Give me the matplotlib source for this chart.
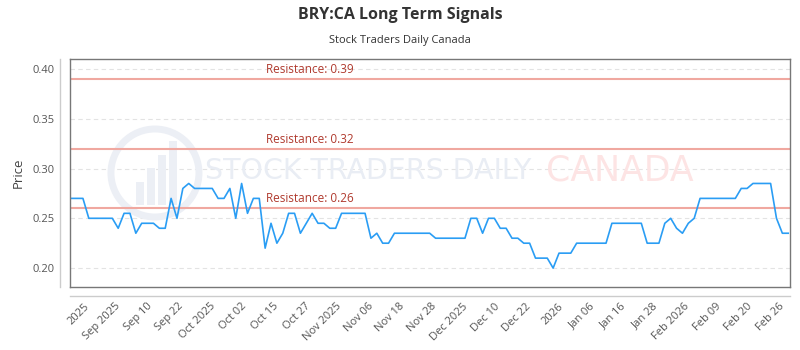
import matplotlib
matplotlib.use("Agg")
import matplotlib.pyplot as plt
from matplotlib.patches import Ellipse, Rectangle
from matplotlib.lines import Line2D

prices = [0.27, 0.27, 0.27, 0.25, 0.25, 0.25, 0.25, 0.25, 0.24, 0.255,
          0.255, 0.235, 0.245, 0.245, 0.245, 0.24, 0.24, 0.27, 0.25, 0.28,
          0.285, 0.28, 0.28, 0.28, 0.28, 0.27, 0.27, 0.28, 0.25, 0.285,
          0.255, 0.27, 0.27, 0.22, 0.245, 0.225, 0.235, 0.255, 0.255, 0.235,
          0.245, 0.255, 0.245, 0.245, 0.24, 0.24, 0.255, 0.255, 0.255, 0.255,
          0.255, 0.23, 0.235, 0.225, 0.225, 0.235, 0.235, 0.235, 0.235, 0.235,
          0.235, 0.235, 0.23, 0.23, 0.23, 0.23, 0.23, 0.23, 0.25, 0.25,
          0.235, 0.25, 0.25, 0.24, 0.24, 0.23, 0.23, 0.225, 0.225, 0.21,
          0.21, 0.21, 0.20, 0.215, 0.215, 0.215, 0.225, 0.225, 0.225, 0.225,
          0.225, 0.225, 0.245, 0.245, 0.245, 0.245, 0.245, 0.245, 0.225, 0.225,
          0.225, 0.245, 0.25, 0.24, 0.235, 0.245, 0.25, 0.27, 0.27, 0.27,
          0.27, 0.27, 0.27, 0.27, 0.28, 0.28, 0.285, 0.285, 0.285, 0.285,
          0.25, 0.235, 0.235]

resistance_levels = [0.39, 0.32, 0.26]

tick_labels = ["2025", "Sep 2025", "Sep 10", "Sep 22", "Oct 2025", "Oct 02",
               "Oct 15", "Oct 27", "Nov 2025", "Nov 06", "Nov 18", "Nov 28",
               "Dec 2025", "Dec 10", "Dec 22", "2026", "Jan 06", "Jan 16",
               "Jan 28", "Feb 2026", "Feb 09", "Feb 20", "Feb 26"]

title = "BRY:CA Long Term Signals"
subtitle = "Stock Traders Daily Canada"

plt.rcParams['font.family'] = ['Open Sans', 'DejaVu Sans']

fig = plt.figure(figsize=(8, 3.5), dpi=100)
ax = fig.add_axes([70/800, 1-287/350, 720/800, 228/350])

n = len(prices)
x = list(range(n))
ax.set_xlim(-0.2, n - 0.7)
ax.set_ylim(0.181, 0.41)

# grid
for v in [0.20, 0.25, 0.30, 0.35, 0.40]:
    ax.axhline(v, color='#e3e3e3', lw=0.8, ls=(0, (4, 3)), zorder=0)

# watermark
ax.text(0.188, 0.51, "STOCK TRADERS DAILY", transform=ax.transAxes,
        fontsize=20.5, color='#e9edf4', ha='left', va='center', zorder=0,
        family='DejaVu Sans')
ax.text(0.661, 0.51, "CANADA", transform=ax.transAxes,
        fontsize=25, color='#fde4e4', ha='left', va='center', zorder=0,
        family='DejaVu Sans')
ax.add_patch(Ellipse((0.118, 0.50), 88/720, 88/228, transform=ax.transAxes,
                     facecolor='none', edgecolor='#eceff5', lw=5, zorder=0))
for bx, bh in [(0.092, 0.10), (0.107, 0.16), (0.122, 0.22), (0.137, 0.28)]:
    ax.add_patch(Rectangle((bx, 0.36), 0.011, bh, transform=ax.transAxes,
                           facecolor='#eceff5', edgecolor='none', zorder=0))

# resistance lines
for r in resistance_levels:
    ax.axhline(r, color='#f0a8a0', lw=1.5, zorder=1)
    ax.text(33.2, r + 0.003, f"Resistance: {r:.2f}", color='#b03a2e',
            fontsize=8.5, ha='left', va='bottom', zorder=3)

ax.plot(x, prices, color='#2a9df4', lw=1.2, zorder=2)

ax.set_yticks([0.20, 0.25, 0.30, 0.35, 0.40])
ax.set_yticklabels([f"{v:.2f}" for v in [0.20, 0.25, 0.30, 0.35, 0.40]])
step = (121.7 - 3.4) / (len(tick_labels) - 1)
ax.set_xticks([3.4 + step * k for k in range(len(tick_labels))])
ax.set_xticklabels(tick_labels, rotation=45, ha='right', rotation_mode='default')
ax.tick_params(axis='both', length=0, labelsize=8, colors='#555555')
ax.tick_params(axis='y', pad=11)
ax.tick_params(axis='x', pad=10)
ax.set_ylabel("Price", fontsize=9.5, color='#444444', labelpad=6)

for s in ax.spines.values():
    s.set_color('#777777')
    s.set_linewidth(1)

# detached axis lines
fig.add_artist(Line2D([60/800, 60/800], [1-59/350, 1-287/350], color='#cccccc', lw=1))
fig.add_artist(Line2D([70/800, 790/800], [1-296/350, 1-296/350], color='#cccccc', lw=1))

fig.text(0.5, 1-15/350, title, ha='center', va='center', fontsize=11.5,
         fontweight='bold', color='#333333')
fig.text(0.5, 1-40/350, subtitle, ha='center', va='center', fontsize=8,
         color='#333333')

fig.savefig("out.png", dpi=100)
